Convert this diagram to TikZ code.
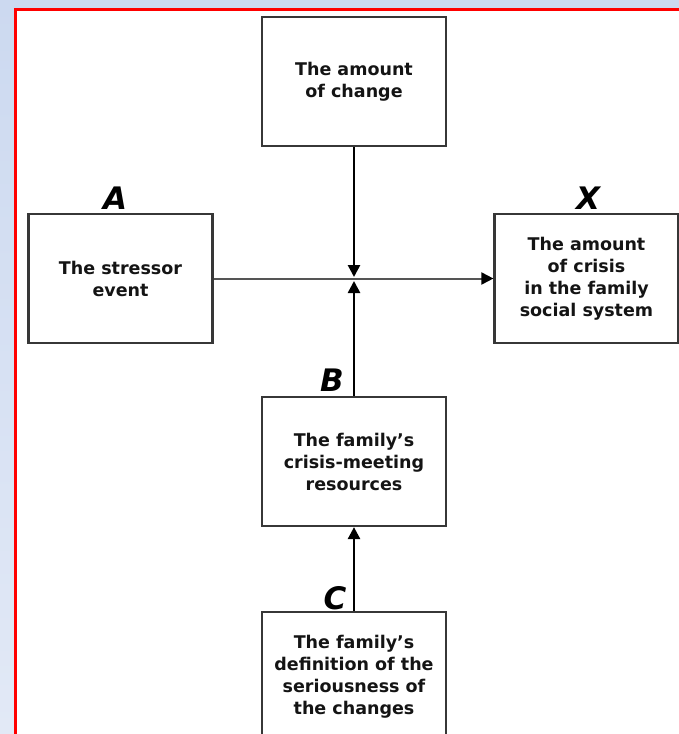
\documentclass[tikz,border=0pt]{standalone}
\usepackage{fontspec}
\setmainfont{DejaVu Sans}
\usetikzlibrary{arrows.meta}
\definecolor{bgtop}{RGB}{204,217,240}
\definecolor{bgbot}{RGB}{226,233,246}
\definecolor{boxgray}{RGB}{55,55,55}
\definecolor{linegray}{RGB}{85,85,85}
\begin{document}
\begin{tikzpicture}[x=1pt,y=-1pt,
 box/.style={draw=boxgray, line width=2.2pt, minimum width=184pt, minimum height=129pt, inner sep=0pt, align=center, font=\bfseries\fontsize{17.5}{22}\selectfont, text=black!92},
 lab/.style={font=\bfseries\itshape\fontsize{31}{31}\selectfont, inner sep=0pt},
 arr/.style={line width=2.6pt, -{Triangle[length=12pt,width=12pt]}},
 harr/.style={draw=linegray, line width=2pt, -{Triangle[length=12pt,width=12pt,color=black]}},
]
\useasboundingbox (0,0) rectangle (679,734);
\shade[top color=bgtop, bottom color=bgbot] (0,0) rectangle (679,734);
\fill[white] (15.5,9.5) rectangle (679,734);
\draw[red, line width=2.8pt] (15.5,740) -- (15.5,9.5) -- (685,9.5);

\node[box] (top) at (354,81.5) {The amount\\of change};
\node[box] (a) at (120.5,278.5) {The stressor\\event};
\node[box] (x) at (586.5,278.5) {The amount\\of crisis\\in the family\\social system};
\node[box] (b) at (354,461.5) {The family’s\\crisis-meeting\\resources};
\node[box] (c) at (354,676.5) {The family’s\\definition of the\\seriousness of\\the changes};

\node[lab] (la) at (115,198) {A};
\node[lab] (lx) at (588,198) {X};
\node[lab] (lb) at (332,380) {B};
\node[lab] (lc) at (335,598) {C};

\coordinate (j1) at (354,277);
\coordinate (j2) at (354,281);

\draw[harr] (a.east) -- (x.west);
\draw[arr] (top.south) -- (j1);
\draw[arr] (b.north) -- (j2);
\draw[arr] (c.north) -- (b.south);
\end{tikzpicture}
\end{document}
